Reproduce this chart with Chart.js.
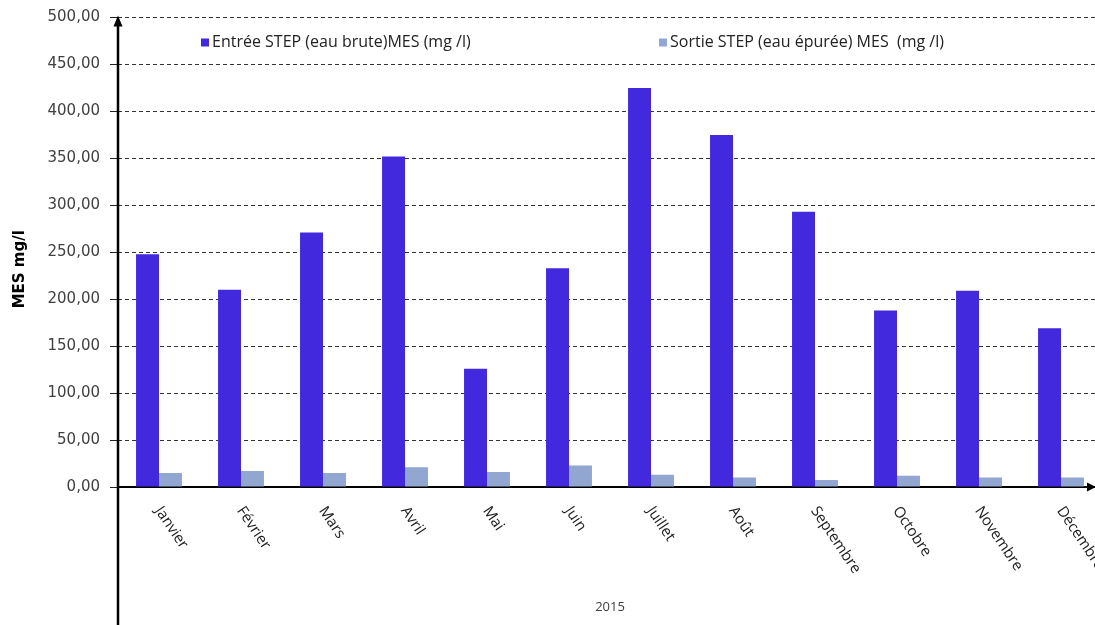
<!DOCTYPE html>
<html><head><meta charset="utf-8">
<script src="https://cdn.jsdelivr.net/npm/chart.js@4.4.0/dist/chart.umd.min.js"></script>
<style>
html,body{margin:0;padding:0;background:#fff;overflow:hidden;width:1095px;height:625px}
#wrap{width:1105px;height:625px}
</style></head>
<body><div id="wrap"><canvas id="c" width="1105" height="625"></canvas></div>
<script>
const categories = ['Janvier','Février','Mars','Avril','Mai','Juin','Juillet','Août','Septembre','Octobre','Novembre','Décembre'];
const entreeMES = [248, 210, 271, 352, 126, 233, 425, 375, 293, 188, 209, 169];
const sortieMES = [15, 17, 15, 21, 16, 23, 13, 10, 7.5, 12, 10, 10];
const seriesLabels = ['Entrée STEP (eau brute)MES (mg /l)', 'Sortie STEP (eau épurée) MES  (mg /l)'];
const seriesColors = ['#4229DE', '#91A6D1'];
const xTitle = '2015';
const yTitle = 'MES mg/l';
const yMin = 0, yMax = 500, yStep = 50;

const decoPlugin = {
  id: 'deco',
  afterDraw(chart) {
    const ctx = chart.ctx;
    const ca = chart.chartArea;
    const xs = chart.scales.x;
    ctx.save();
    // y axis line with arrow
    ctx.strokeStyle = '#000';
    ctx.fillStyle = '#000';
    ctx.lineWidth = 2.5;
    ctx.beginPath();
    ctx.moveTo(ca.left, ca.top + 4);
    ctx.lineTo(ca.left, chart.height);
    ctx.stroke();
    ctx.beginPath();
    ctx.moveTo(ca.left, ca.top - 2);
    ctx.lineTo(ca.left - 4.5, ca.top + 9);
    ctx.lineTo(ca.left + 4.5, ca.top + 9);
    ctx.closePath();
    ctx.fill();
    // x axis arrow at right edge
    const xr = 1096;
    ctx.beginPath();
    ctx.moveTo(xr, ca.bottom);
    ctx.lineTo(xr - 9, ca.bottom - 4.5);
    ctx.lineTo(xr - 9, ca.bottom + 4.5);
    ctx.closePath();
    ctx.fill();
    // y axis title
    ctx.save();
    ctx.fillStyle = '#000';
    ctx.font = 'bold 15px "DejaVu Sans"';
    ctx.textAlign = 'center';
    ctx.textBaseline = 'middle';
    ctx.translate(20, (ca.top + ca.bottom) / 2 + 17);
    ctx.rotate(-Math.PI / 2);
    ctx.fillText(yTitle, 0, 0);
    ctx.restore();
    // rotated month labels
    ctx.fillStyle = '#222';
    ctx.font = '15px "Open Sans"';
    ctx.textAlign = 'left';
    ctx.textBaseline = 'middle';
    categories.forEach((lab, i) => {
      const x = xs.getPixelForTick(i);
      ctx.save();
      ctx.translate(x - 1, ca.bottom + 21);
      ctx.rotate(56 * Math.PI / 180);
      ctx.fillText(lab, 0, 0);
      ctx.restore();
    });
    // legend
    ctx.font = '16px "Open Sans"';
    ctx.textBaseline = 'middle';
    const ly = ca.top + 25;
    const starts = [ca.left + 83, ca.left + 541];
    chart.data.datasets.forEach((ds, i) => {
      ctx.fillStyle = ds.backgroundColor;
      ctx.fillRect(starts[i], ly - 4, 8, 8);
      ctx.fillStyle = '#222';
      ctx.fillText(ds.label, starts[i] + 11, ly);
    });
    ctx.restore();
  }
};

new Chart(document.getElementById('c'), {
  type: 'bar',
  data: {
    labels: categories,
    datasets: [
      { label: seriesLabels[0], data: entreeMES, backgroundColor: seriesColors[0], categoryPercentage: 0.56, barPercentage: 1.0 },
      { label: seriesLabels[1], data: sortieMES, backgroundColor: seriesColors[1], categoryPercentage: 0.56, barPercentage: 1.0 }
    ]
  },
  options: {
    responsive: false,
    animation: false,
    layout: { padding: { top: 14, right: 3, left: 0, bottom: 0 } },
    plugins: { legend: { display: false }, tooltip: { enabled: false } },
    scales: {
      x: {
        ticks: { display: false },
        grid: { display: false, drawTicks: false },
        border: { display: true, color: '#000', width: 2 },
        title: { display: true, text: xTitle, color: '#404040', font: { family: 'Open Sans', size: 13 }, padding: { top: 0, bottom: 10 } },
        afterFit(s) { s.height = 138; }
      },
      y: {
        min: yMin, max: yMax,
        ticks: {
          stepSize: yStep, padding: 10, color: '#404040',
          font: { family: 'DejaVu Sans', size: 15, lineHeight: 1.0 },
          callback: v => v.toFixed(2).replace('.', ',')
        },
        grid: { color: '#333', lineWidth: 1, drawTicks: true, tickLength: 8, tickColor: '#222', tickBorderDash: [] },
        border: { display: false, dash: [4, 3] },
        title: { display: false },
        afterFit(s) { s.width = 118; }
      }
    }
  },
  plugins: [decoPlugin]
});
</script>
</body></html>
